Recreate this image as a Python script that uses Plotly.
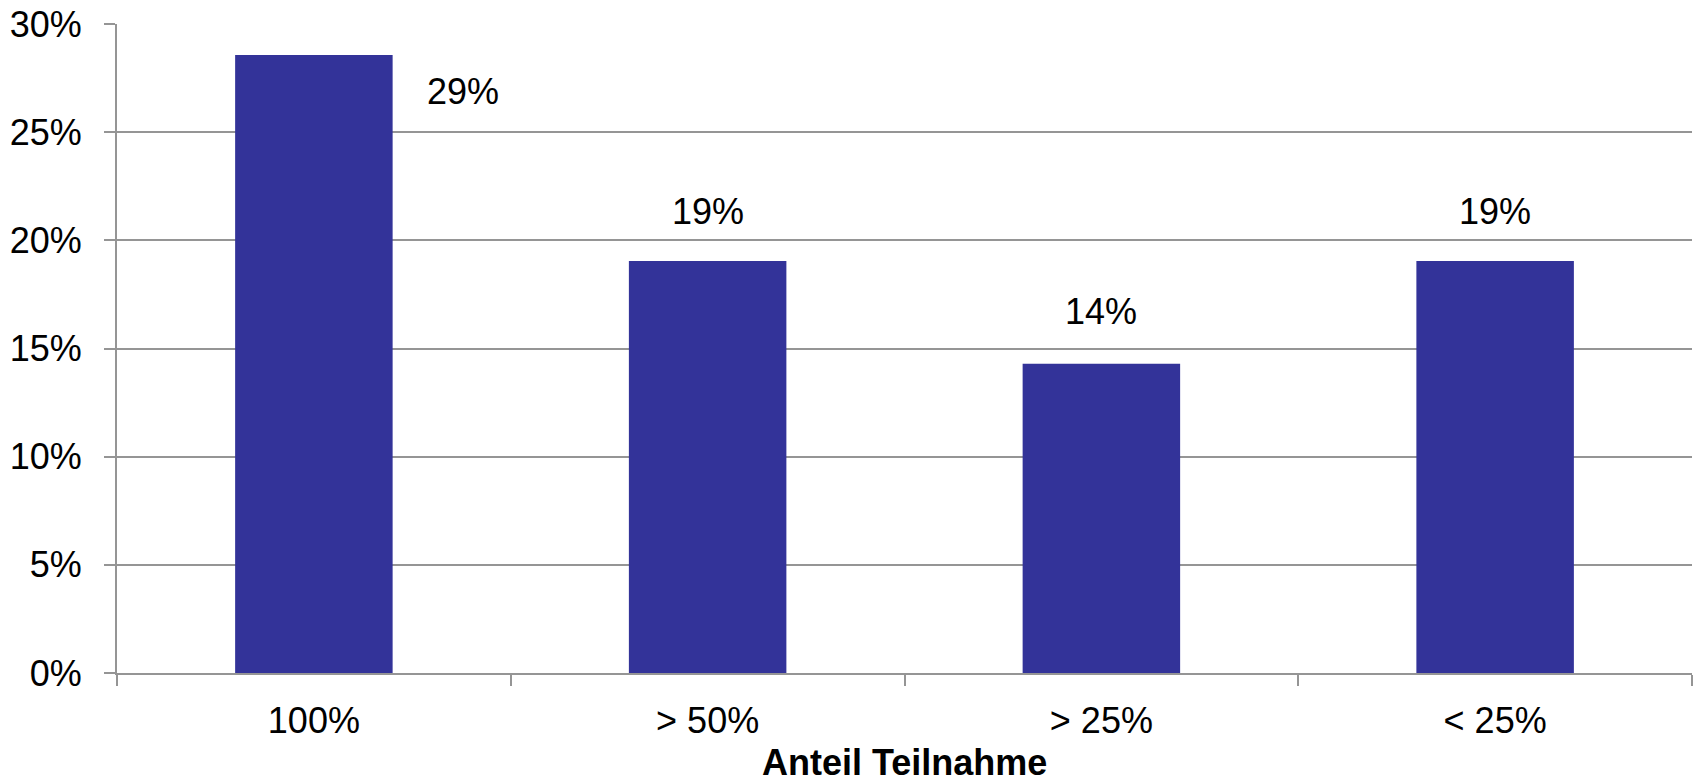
import plotly.graph_objects as go

# Share of participation per group
categories = ["100%", "> 50%", "> 25%", "< 25%"]
shares = [28.57, 19.05, 14.29, 19.05]

# label offsets in pixels relative to the bar top (x, y)
label_dx = [149, 0, 0, 0]
label_dy = [-37, 49, 52, 49]

y_ticks = [0, 5, 10, 15, 20, 25, 30]
y_tick_text = [f"{t}%" for t in y_ticks]

X_TITLE = "Anteil Teilnahme"

BAR_COLOR = "#333399"
GRID = "#959595"
FONT = "Liberation Sans, Arial, sans-serif"

fig = go.Figure(
    go.Bar(
        x=categories,
        y=shares,
        marker=dict(color=BAR_COLOR, line=dict(width=0)),
        hoverinfo="x+y",
    )
)

for cat, val, dx, dy in zip(categories, shares, label_dx, label_dy):
    fig.add_annotation(
        x=cat, y=val, text=f"{val:.0f}%", showarrow=False,
        xshift=dx, yshift=dy,
        font=dict(family=FONT, size=36, color="black"),
    )

# x-axis title placed below the tick labels, kept inside the page
fig.add_annotation(
    xref="paper", yref="paper", x=0.5, y=0, yanchor="bottom",
    yshift=-111, borderpad=0, text=f"<b>{X_TITLE}</b>", showarrow=False,
    font=dict(family=FONT, size=36, color="black"),
)

fig.update_layout(
    width=1694,
    height=783,
    margin=dict(l=117, r=2, t=24, b=110),
    paper_bgcolor="white",
    plot_bgcolor="white",
    bargap=0.6,
    showlegend=False,
    font=dict(family=FONT, size=36, color="black"),
)

fig.update_xaxes(
    type="category",
    automargin=False,
    showline=True, linecolor=GRID, linewidth=2,
    ticks="outside", tickson="boundaries", ticklen=11, tickcolor=GRID, tickwidth=2,
    showgrid=False,
    ticklabelstandoff=15,
    tickfont=dict(family=FONT, size=36, color="black"),
)

fig.update_yaxes(
    range=[0, 30],
    automargin=False,
    tickvals=y_ticks, ticktext=y_tick_text,
    showline=True, linecolor=GRID, linewidth=2,
    ticks="outside", ticklen=11, tickcolor=GRID, tickwidth=2,
    showgrid=True, gridcolor=GRID, gridwidth=2,
    zeroline=False,
    ticklabelstandoff=15,
    tickfont=dict(family=FONT, size=36, color="black"),
)

fig.write_html("out.html")
